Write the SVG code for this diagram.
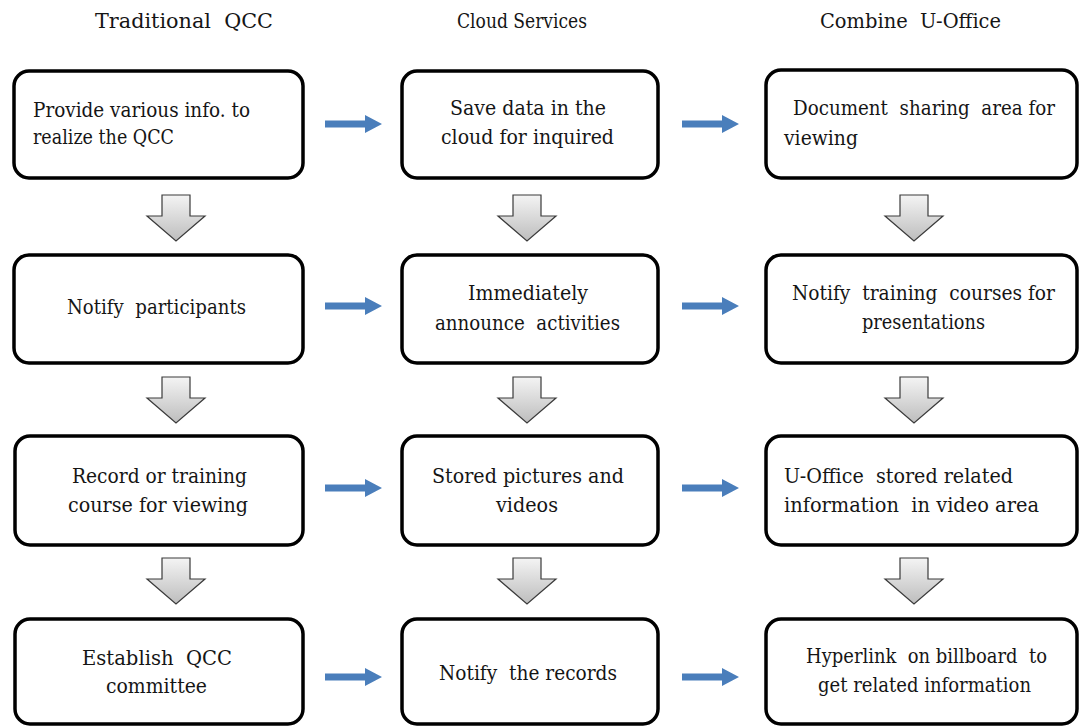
<svg xmlns="http://www.w3.org/2000/svg" width="1080" height="726" viewBox="0 0 1080 726">
<defs>
<linearGradient id="gray" x1="0" y1="0" x2="0" y2="1">
<stop offset="0" stop-color="#f4f4f4"/>
<stop offset="1" stop-color="#bdbdbd"/>
</linearGradient>
<path id="down" d="M-14,0 H14 V21 H29 L0,46 L-29,21 H-14 Z"/>
<path id="right" d="M0,-3.5 H40 V-9 L57,0 L40,9 V3.5 H0 Z"/>
</defs>
<style>
.box{fill:#fff;stroke:#000;stroke-width:3.5}
text{font-family:'DejaVu Serif','Liberation Serif',serif;font-size:20px;fill:#151515}
.dn{fill:url(#gray);stroke:#3a3a3a;stroke-width:1.2}
.rt{fill:#4a7ebb}
</style>
<rect width="1080" height="726" fill="#fff"/>
<g id="headers">
<text x="95" y="28" textLength="178" lengthAdjust="spacingAndGlyphs" xml:space="preserve">Traditional  QCC</text>
<text x="457" y="28" textLength="130" lengthAdjust="spacingAndGlyphs">Cloud Services</text>
<text x="820" y="28" textLength="181" lengthAdjust="spacingAndGlyphs" xml:space="preserve">Combine  U-Office</text>
</g>
<g id="connectors">
<use href="#down" class="dn" x="176" y="195"/>
<use href="#down" class="dn" x="527" y="195"/>
<use href="#down" class="dn" x="914" y="195"/>
<use href="#down" class="dn" x="176" y="377"/>
<use href="#down" class="dn" x="527" y="377"/>
<use href="#down" class="dn" x="914" y="377"/>
<use href="#down" class="dn" x="176" y="558"/>
<use href="#down" class="dn" x="527" y="558"/>
<use href="#down" class="dn" x="914" y="558"/>
<use href="#right" class="rt" x="325" y="124"/>
<use href="#right" class="rt" x="682" y="124"/>
<use href="#right" class="rt" x="325" y="306"/>
<use href="#right" class="rt" x="682" y="306"/>
<use href="#right" class="rt" x="325" y="488"/>
<use href="#right" class="rt" x="682" y="488"/>
<use href="#right" class="rt" x="325" y="677"/>
<use href="#right" class="rt" x="682" y="677"/>
</g>
<g id="n11"><rect class="box" x="14" y="71" width="289" height="107" rx="15"/>
<text x="33" y="117" textLength="217" lengthAdjust="spacingAndGlyphs">Provide various info. to</text>
<text x="33" y="144" textLength="141" lengthAdjust="spacingAndGlyphs">realize the QCC</text></g>
<g id="n12"><rect class="box" x="402" y="71" width="256" height="107" rx="15"/>
<text x="450" y="115" textLength="156" lengthAdjust="spacingAndGlyphs">Save data in the</text>
<text x="441" y="144" textLength="173" lengthAdjust="spacingAndGlyphs">cloud for inquired</text></g>
<g id="n13"><rect class="box" x="766" y="70" width="311" height="108" rx="15"/>
<text x="793" y="115" textLength="262" lengthAdjust="spacingAndGlyphs" xml:space="preserve">Document  sharing  area for</text>
<text x="784" y="145" textLength="74" lengthAdjust="spacingAndGlyphs">viewing</text></g>
<g id="n21"><rect class="box" x="14" y="255" width="289" height="108" rx="15"/>
<text x="67" y="314" textLength="179" lengthAdjust="spacingAndGlyphs" xml:space="preserve">Notify  participants</text></g>
<g id="n22"><rect class="box" x="402" y="255" width="256" height="108" rx="15"/>
<text x="468" y="300" textLength="120" lengthAdjust="spacingAndGlyphs">Immediately</text>
<text x="435" y="330" textLength="185" lengthAdjust="spacingAndGlyphs" xml:space="preserve">announce  activities</text></g>
<g id="n23"><rect class="box" x="766" y="255" width="311" height="108" rx="15"/>
<text x="792" y="300" textLength="263" lengthAdjust="spacingAndGlyphs" xml:space="preserve">Notify  training  courses for</text>
<text x="862" y="329" textLength="123" lengthAdjust="spacingAndGlyphs">presentations</text></g>
<g id="n31"><rect class="box" x="15" y="436" width="288" height="109" rx="15"/>
<text x="72" y="483" textLength="175" lengthAdjust="spacingAndGlyphs">Record or training</text>
<text x="68" y="512" textLength="180" lengthAdjust="spacingAndGlyphs">course for viewing</text></g>
<g id="n32"><rect class="box" x="402" y="436" width="256" height="109" rx="15"/>
<text x="432" y="483" textLength="192" lengthAdjust="spacingAndGlyphs">Stored pictures and</text>
<text x="496" y="512" textLength="62" lengthAdjust="spacingAndGlyphs">videos</text></g>
<g id="n33"><rect class="box" x="766" y="436" width="311" height="109" rx="15"/>
<text x="784" y="483" textLength="229" lengthAdjust="spacingAndGlyphs" xml:space="preserve">U-Office  stored related</text>
<text x="784" y="512" textLength="255" lengthAdjust="spacingAndGlyphs" xml:space="preserve">information  in video area</text></g>
<g id="n41"><rect class="box" x="15" y="619" width="288" height="105" rx="15"/>
<text x="82" y="665" textLength="150" lengthAdjust="spacingAndGlyphs" xml:space="preserve">Establish  QCC</text>
<text x="106" y="693" textLength="101" lengthAdjust="spacingAndGlyphs">committee</text></g>
<g id="n42"><rect class="box" x="402" y="619" width="256" height="105" rx="15"/>
<text x="439" y="680" textLength="178" lengthAdjust="spacingAndGlyphs" xml:space="preserve">Notify  the records</text></g>
<g id="n43"><rect class="box" x="766" y="619" width="311" height="105" rx="15"/>
<text x="806" y="663" textLength="241" lengthAdjust="spacingAndGlyphs" xml:space="preserve">Hyperlink  on billboard  to</text>
<text x="818" y="692" textLength="213" lengthAdjust="spacingAndGlyphs">get related information</text></g>
</svg>
